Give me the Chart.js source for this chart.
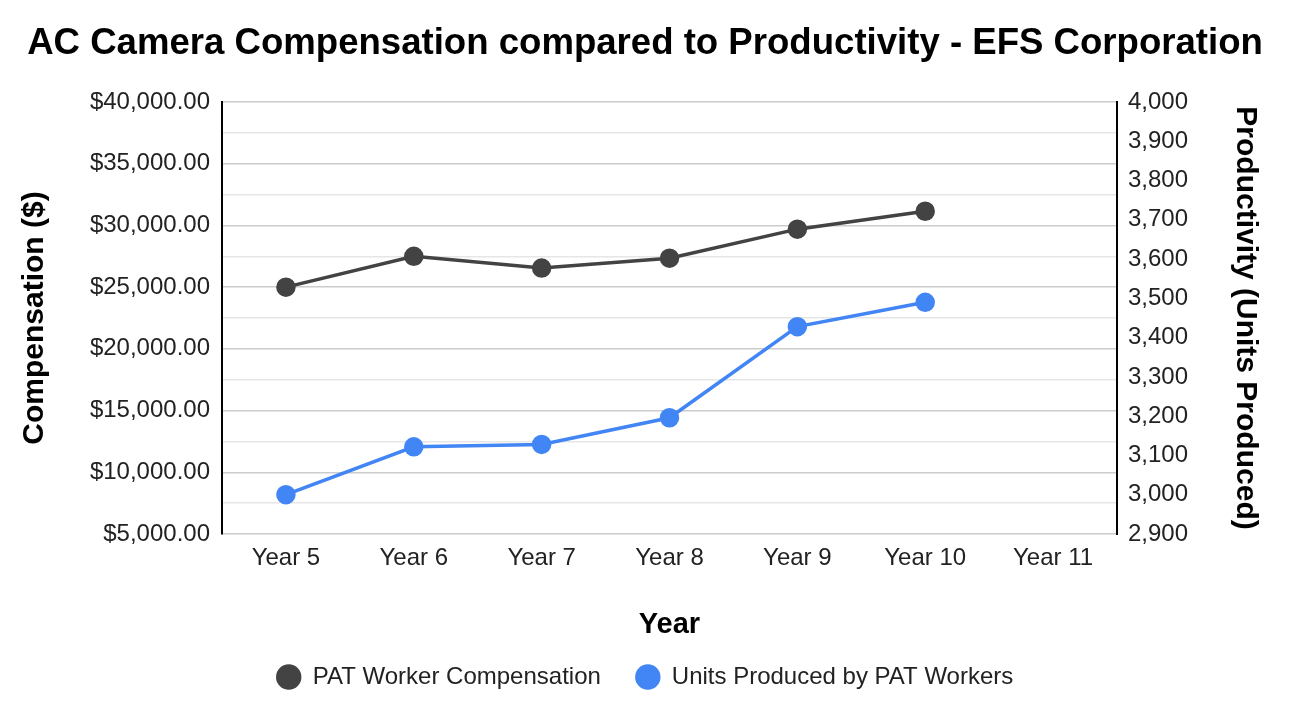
<!DOCTYPE html>
<html>
<head>
<meta charset="utf-8">
<script src="https://cdn.jsdelivr.net/npm/chart.js@4"></script>
<style>
  html, body { margin: 0; padding: 0; background: #ffffff; }
  #wrap { width: 1290px; height: 708px; }
</style>
</head>
<body>
<div id="wrap"><canvas id="c" width="1290" height="708"></canvas></div>
<script>
const categories = ["Year 5", "Year 6", "Year 7", "Year 8", "Year 9", "Year 10", "Year 11"];
const compensation = [25000, 27500, 26550, 27350, 29700, 31150, null];
const unitsProduced = [3000, 3122, 3128, 3196, 3428, 3490, null];
const seriesNames = ["PAT Worker Compensation", "Units Produced by PAT Workers"];
const chartTitle = "AC Camera Compensation compared to Productivity - EFS Corporation";
const xTitle = "Year";
const leftTitle = "Compensation ($)";
const rightTitle = "Productivity (Units Produced)";

const FONT = "'Liberation Sans', Arial, Helvetica, sans-serif";

new Chart(document.getElementById('c'), {
  type: 'line',
  data: {
    labels: categories,
    datasets: [
      {
        label: seriesNames[0],
        data: compensation,
        yAxisID: 'y',
        borderColor: '#434343',
        backgroundColor: '#434343',
        borderWidth: 3.5,
        pointRadius: 8,
        pointHoverRadius: 8,
        pointStyle: 'circle',
        tension: 0
      },
      {
        label: seriesNames[1],
        data: unitsProduced,
        yAxisID: 'y1',
        borderColor: '#4285f4',
        backgroundColor: '#4285f4',
        borderWidth: 3.5,
        pointRadius: 8,
        pointHoverRadius: 8,
        pointStyle: 'circle',
        tension: 0
      }
    ]
  },
  options: {
    responsive: false,
    animation: false,
    devicePixelRatio: 1,
    layout: { padding: { left: 0, right: 0, top: 0, bottom: 9 } },
    plugins: {
      title: {
        display: true,
        text: chartTitle,
        color: '#000000',
        font: { family: FONT, size: 36.6, weight: 'bold' },
        padding: { top: 22, bottom: 36.1 }
      },
      legend: {
        display: true,
        position: 'bottom',
        labels: {
          usePointStyle: true,
          boxHeight: 15.5,
          boxWidth: 24,
          padding: 35,
          color: '#222222',
          font: { family: FONT, size: 24 }
        }
      },
      tooltip: { enabled: false }
    },
    scales: {
      x: {
        offset: true,
        grid: { display: false, drawTicks: false },
        border: { display: false },
        ticks: {
          color: '#222222',
          padding: 10,
          font: { family: FONT, size: 24 },
          maxRotation: 0
        },
        title: {
          display: true,
          text: xTitle,
          color: '#000000',
          font: { family: FONT, size: 29, weight: 'bold' },
          padding: { top: 0, bottom: -12.4 }
        },
        afterFit(scale) { scale.height = 96; }
      },
      y: {
        position: 'left',
        min: 5000,
        max: 40000,
        ticks: {
          stepSize: 2500,
          autoSkip: false,
          color: '#222222',
          padding: 12,
          font: { family: FONT, size: 24 },
          callback: function (v) {
            if (v % 5000 !== 0) return '';
            return '$' + Number(v).toLocaleString('en-US', { minimumFractionDigits: 2, maximumFractionDigits: 2 });
          }
        },
        grid: {
          drawTicks: false,
          lineWidth: 1.5,
          color: function (ctx) {
            if (!ctx.tick) return '#cccccc';
            return ctx.tick.value % 5000 === 0 ? '#cccccc' : '#e6e6e6';
          }
        },
        border: { display: true, color: '#000000', width: 2 },
        title: {
          display: true,
          text: leftTitle,
          color: '#000000',
          font: { family: FONT, size: 30, weight: 'bold' },
          padding: { top: 17, bottom: 0 }
        },
        afterFit(scale) { scale.width = 222; }
      },
      y1: {
        position: 'right',
        min: 2900,
        max: 4000,
        ticks: {
          stepSize: 100,
          autoSkip: false,
          color: '#222222',
          padding: 11,
          font: { family: FONT, size: 24 },
          callback: function (v) { return Number(v).toLocaleString('en-US'); }
        },
        grid: { drawOnChartArea: false, drawTicks: false },
        border: { display: true, color: '#000000', width: 2 },
        title: {
          display: true,
          text: rightTitle,
          color: '#000000',
          font: { family: FONT, size: 30, weight: 'bold' },
          padding: { top: 27, bottom: 0 }
        },
        afterFit(scale) { scale.width = 173; }
      }
    }
  }
});
</script>
</body>
</html>
